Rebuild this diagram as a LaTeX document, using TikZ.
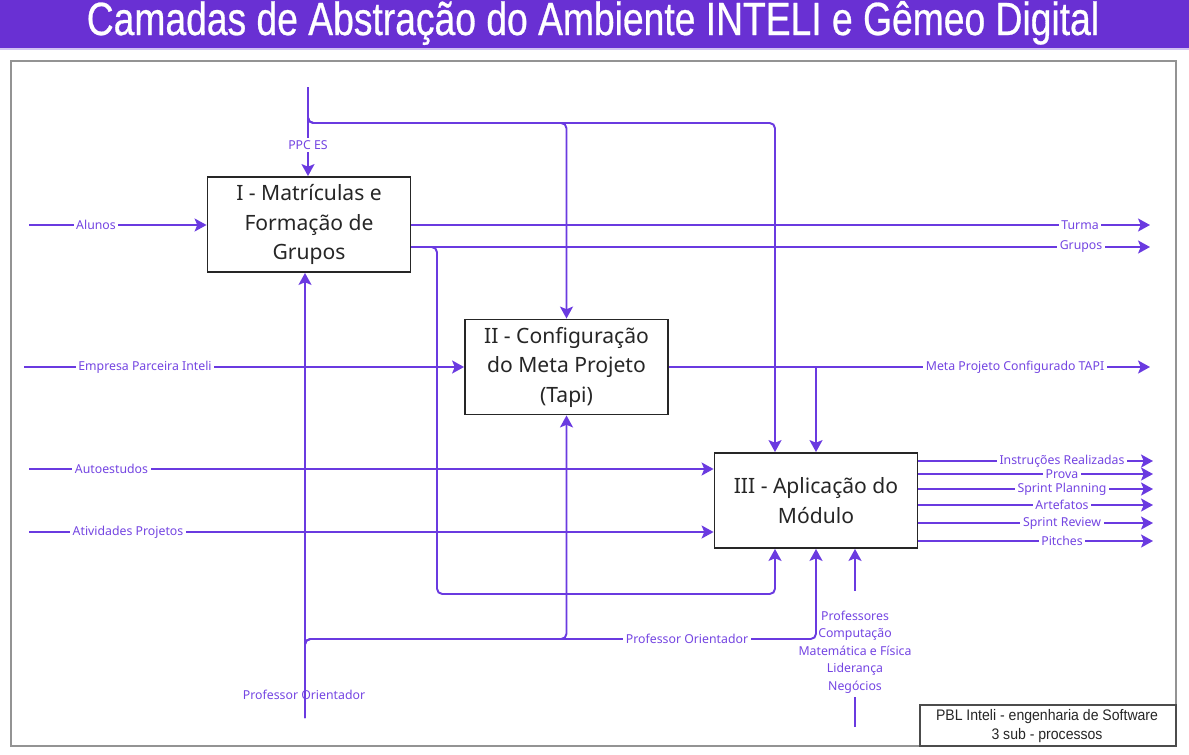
\documentclass[tikz,border=0pt]{standalone}
\usepackage{fontspec}
\setmainfont{Noto Sans}
\newfontfamily\titlefont[FakeStretch=0.8,FakeBold=0.6]{Liberation Sans}
\newfontfamily\notefont[FakeStretch=0.92]{Liberation Sans}
\usetikzlibrary{arrows.meta}
\definecolor{ink}{HTML}{6A3AE0}
\definecolor{lblink}{HTML}{7445E2}
\definecolor{bar}{HTML}{6930D3}
\tikzset{
    proc/.style={draw=black!85, line width=1.1pt, minimum width=4.06cm, minimum height=1.9cm,
        align=center, text=black!85, font=\fontsize{12}{16.8}\selectfont},
    flow/.style={draw=ink, line width=1.1pt, -{Stealth[length=6.8pt,width=7.4pt,inset=1.5pt]}},
    lbl/.style={text=lblink, font=\fontsize{7}{10}\selectfont, fill=white, inner sep=1.5pt},
}
\newcommand\OutArrow[4]{% name, y, label x, label
    \coordinate (#1) at (1153,#2);
    \draw[flow] (III.east |- #1) -- (#1);
    \node[lbl] (l#1) at (#3,#2) {#4};
}

\begin{document}
\begin{tikzpicture}[x=0.02cm, y=-0.02cm]
    \useasboundingbox (0,0) rectangle (1189,754);
    % title and frame
    \fill[bar] (0,0) rectangle (1189,48);
    \fill[bar!30] (0,48) rectangle (1189,50);
    \node[text=white, font=\titlefont\fontsize{26.5}{30}\selectfont] (title) at (593,23)
        {Camadas de Abstração do Ambiente INTELI e Gêmeo Digital};
    \draw[gray!85, line width=1.2pt] (11,61) rectangle (1176,746);
    \draw[black!70, line width=0.7pt] (920,705) rectangle (1176,746);
    \node[align=center, text=black!85, font=\notefont\fontsize{8.7}{11.3}\selectfont] (note) at (1047,726)
        {PBL Inteli - engenharia de Software\\3 sub - processos};

    % processes
    \node[proc] (I) at (309,224.5) {I - Matrículas e\\Formação de\\Grupos};
    \node[proc] (II) at (566.5,367) {II - Configuração\\do Meta Projeto\\(Tapi)};
    \node[proc] (III) at (816,500.5) {III - Aplicação do\\Módulo};

    % controls from the top
    \coordinate (pTop) at (308,87);
    \coordinate (cTop) at (775,123);
    \draw[flow] (pTop) -- (I.north -| pTop);
    \draw[flow, rounded corners=3pt] (pTop) |- (II.north |- cTop) -- (II.north);
    \draw[flow, rounded corners=3pt] (pTop) |- (cTop) -- (III.north -| cTop);
    \node[lbl] (lppc) at (308,145) {PPC ES};

    % inputs
    \coordinate (iAlunos) at (29,225);
    \draw[flow] (iAlunos) -- (I.west |- iAlunos);
    \node[lbl] (lAlunos) at (96,225) {Alunos};
    \coordinate (iEmpresa) at (24,367);
    \draw[flow] (iEmpresa) -- (II.west);
    \node[lbl] (lEmpresa) at (145,367) {Empresa Parceira Inteli};
    \coordinate (iAuto) at (29,469);
    \draw[flow] (iAuto) -- (III.west |- iAuto);
    \node[lbl] (lAuto) at (111.5,469) {Autoestudos};
    \coordinate (iAtiv) at (29,532);
    \draw[flow] (iAtiv) -- (III.west |- iAtiv);
    \node[lbl] (lAtiv) at (128,532) {Atividades Projetos};

    % outputs of I and II
    \coordinate (oTurma) at (1150,225);
    \draw[flow] (I.east |- oTurma) -- (oTurma);
    \node[lbl] (lTurma) at (1080,225) {Turma};
    \coordinate (oGrupos) at (1150,247);
    \coordinate (gCorner) at (437,594);
    \draw[flow] (I.east |- oGrupos) -- (oGrupos);
    \draw[flow, rounded corners=3pt] (I.east |- oGrupos) -| (gCorner) -| (cTop |- III.south);
    \node[lbl] (lGrupos) at (1081,247) {Grupos};
    \coordinate (oMeta) at (1150,367);
    \draw[flow] (II.east) -- (oMeta);
    \draw[flow] (II.east) -| (III.north);
    \node[lbl] (lMeta) at (1015,367) {Meta Projeto Configurado TAPI};

    % mechanisms from below
    \coordinate (pBot) at (305,718);
    \coordinate (cBot) at (816,639);
    \draw[flow] (pBot) -- (I.south -| pBot);
    \draw[flow, rounded corners=3pt] (pBot) |- (II.south |- cBot) -- (II.south);
    \draw[flow, rounded corners=3pt] (pBot) |- (cBot) -- (III.south);
    \node[lbl, fill=none] (lpBot) at (304,695) {Professor Orientador};
    \node[lbl] (lcBot) at (687,639) {Professor Orientador};
    \coordinate (pProf) at (855,727);
    \node[lbl, fill=none, align=center, inner sep=0pt] (lProf) at (855,652)
        {Professores\\Computação\\Matemática e Física\\Liderança\\Negócios};
    \draw[draw=ink, line width=1.1pt] (pProf) -- ([yshift=-2pt]pProf |- lProf.south);
    \draw[flow] ([yshift=11pt]lProf.north) -- (III.south -| pProf);

    % outputs of III
    \OutArrow{oInst}{461}{1062}{Instruções Realizadas}
    \OutArrow{oProva}{474}{1062}{Prova}
    \OutArrow{oPlan}{489}{1062}{Sprint Planning}
    \OutArrow{oArt}{505}{1062}{Artefatos}
    \OutArrow{oRev}{523}{1062}{Sprint Review}
    \OutArrow{oPitch}{541}{1062}{Pitches}
\end{tikzpicture}
\end{document}
